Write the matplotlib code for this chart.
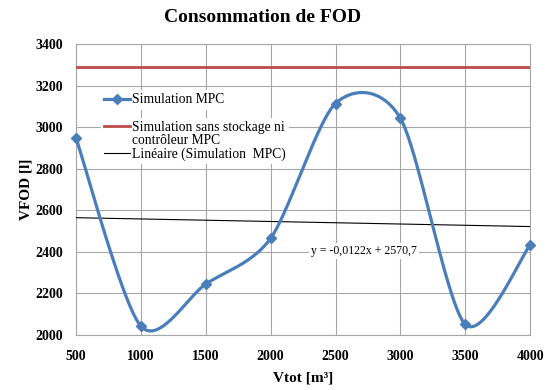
import numpy as np
import matplotlib
matplotlib.use("Agg")
import matplotlib.pyplot as plt
from matplotlib.lines import Line2D

# Volumes and fuel consumption
vtot = [500, 1000, 1500, 2000, 2500, 3000, 3500, 4000]
vfod_mpc = [2950, 2043, 2245, 2465, 3114, 3043, 2051, 2435]
vfod_sans_stockage = 3292
trend_slope = -0.0122
trend_intercept = 2570.7

x_ticks = [500, 1000, 1500, 2000, 2500, 3000, 3500, 4000]
y_ticks = [2000, 2200, 2400, 2600, 2800, 3000, 3200, 3400]


def smooth_curve(xs, ys, k=0.14, n=40):
    """Cardinal-spline Bezier smoothing through the points."""
    xs = np.asarray(xs, float)
    ys = np.asarray(ys, float)
    px = np.concatenate([[xs[0]], xs, [xs[-1]]])
    py = np.concatenate([[ys[0]], ys, [ys[-1]]])
    out_x, out_y = [], []
    t = np.linspace(0, 1, n)
    for i in range(1, len(px) - 2):
        p0 = np.array([px[i], py[i]])
        p3 = np.array([px[i + 1], py[i + 1]])
        c1 = p0 + (np.array([px[i + 1], py[i + 1]]) - np.array([px[i - 1], py[i - 1]])) * k
        c2 = p3 - (np.array([px[i + 2], py[i + 2]]) - np.array([px[i], py[i]])) * k
        b = ((1 - t) ** 3)[:, None] * p0 + (3 * (1 - t) ** 2 * t)[:, None] * c1 \
            + (3 * (1 - t) * t ** 2)[:, None] * c2 + (t ** 3)[:, None] * p3
        out_x.extend(b[:, 0])
        out_y.extend(b[:, 1])
    return np.array(out_x), np.array(out_y)


serif = ["Liberation Serif", "DejaVu Serif"]
plt.rcParams["font.family"] = serif

fig = plt.figure(figsize=(5.5, 3.9), dpi=100)
ax = fig.add_axes([0.138, 0.141, 0.826, 0.746])

blue = "#4A7EBB"
red = "#BE4B48"

sx, sy = smooth_curve(vtot, vfod_mpc)
ax.plot(sx, sy, color=blue, lw=2.3, clip_on=False, zorder=4)
ax.plot(vtot, vfod_mpc, linestyle="none", marker="D", ms=5, color=blue,
        clip_on=False, zorder=5)

ax.plot([x_ticks[0], x_ticks[-1]], [vfod_sans_stockage] * 2, color=red, lw=2,
        zorder=3)

tx = np.array([x_ticks[0], x_ticks[-1]], float)
ax.plot(tx, trend_slope * tx + trend_intercept, color="black", lw=0.8,
        zorder=3)

ax.text(2720, 2404, "y = -0,0122x + 2570,7", fontsize=8.5, ha="center",
        va="center", bbox=dict(facecolor="white", edgecolor="none", pad=1.5),
        zorder=3)

ax.set_xlim(500, 4000)
ax.set_ylim(2000, 3400)
ax.set_xticks(x_ticks)
ax.set_yticks(y_ticks)
ax.tick_params(axis="y", length=0, pad=9)
ax.tick_params(axis="x", length=0, pad=11)
for lab in ax.get_xticklabels() + ax.get_yticklabels():
    lab.set_fontweight("bold")
    lab.set_fontsize(10)
ax.grid(True, color="#A6A6A6", lw=0.8)
ax.set_axisbelow(True)
for sp in ax.spines.values():
    sp.set_color("#A6A6A6")
    sp.set_linewidth(0.8)

fig.text(0.478, 0.955, "Consommation de FOD", fontsize=14, fontweight="bold",
         ha="center", va="center")
ax.set_xlabel("Vtot [m³]", fontsize=11, fontweight="bold", labelpad=6)
ax.set_ylabel("VFOD [l]", fontsize=11, fontweight="bold", labelpad=2)

# Legend: the series entry on its own, then the reference line and trend
leg_kw = dict(frameon=True, fontsize=9.8, handlelength=1.9, handletextpad=0.1,
              borderpad=0.25, fancybox=False, loc="upper left")
h_mpc = Line2D([], [], color=blue, lw=2.3, marker="D", ms=5)
h_red = Line2D([], [], color=red, lw=2)
h_none = Line2D([], [], color="none")
h_lin = Line2D([], [], color="black", lw=0.8)

leg1 = ax.legend([h_mpc], ["Simulation MPC"], bbox_to_anchor=(0.04, 0.866),
                 **leg_kw)
leg2 = ax.legend([h_red, h_none, h_lin],
                 ["Simulation sans stockage ni", "contrôleur MPC",
                  "Linéaire (Simulation  MPC)"],
                 bbox_to_anchor=(0.04, 0.77), labelspacing=0.0, **leg_kw)
ax.add_artist(leg1)
for lg in (leg1, leg2):
    lg.get_frame().set_facecolor("white")
    lg.get_frame().set_edgecolor("none")
    lg.get_frame().set_alpha(1)
    lg.set_zorder(6)

fig.savefig("out.png", dpi=100)
